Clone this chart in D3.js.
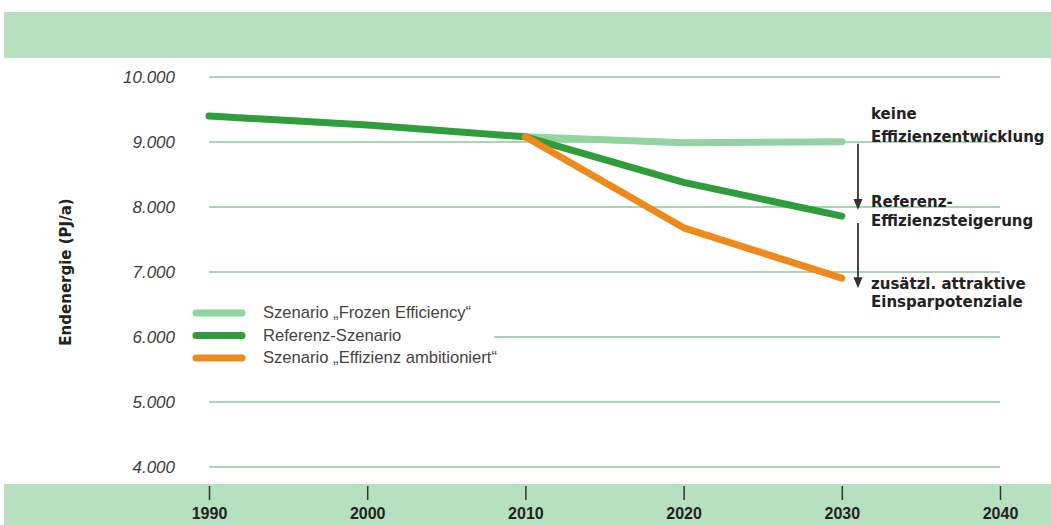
<!DOCTYPE html>
<html>
<head>
<meta charset="utf-8">
<script src="https://cdn.jsdelivr.net/npm/d3@7"></script>
<style>
  html, body { margin: 0; padding: 0; background: #fff; }
  svg { display: block; }
</style>
</head>
<body>
<svg id="chart" width="1051" height="525"></svg>
<script>
// Endenergieverbrauch je Szenario (PJ/a)
const years = [1990, 2000, 2010, 2020, 2030];
const referenz = [9400, 9260, 9080, 8380, 7860];
const frozenYears = [2010, 2020, 2030];
const frozen = [9080, 8990, 9005];
const ambitYears = [2010, 2020, 2030];
const ambitioniert = [9080, 7680, 6905];

const xTicks = [1990, 2000, 2010, 2020, 2030, 2040];
const yTicks = [4000, 5000, 6000, 7000, 8000, 9000, 10000];
const yLabel = "Endenergie (PJ/a)";

const legendItems = [
  { label: "Szenario \u201EFrozen Efficiency\u201C", color: "#93d3a0" },
  { label: "Referenz-Szenario", color: "#2f9e3a" },
  { label: "Szenario \u201EEffizienz ambitioniert\u201C", color: "#f0891c" }
];

const annotations = [
  ["keine", "Effizienzentwicklung"],
  ["Referenz-", "Effizienzsteigerung"],
  ["zus\u00E4tzl. attraktive", "Einsparpotenziale"]
];

const svg = d3.select("#chart");
const x = d3.scaleLinear().domain([1990, 2040]).range([209, 1000]);
const y = d3.scaleLinear().domain([4000, 10000]).range([467, 77]);

const bandColor = "#b7e0c0";
const gridColor = "#a9d6b2";
const boldFont = "DejaVu Sans, Liberation Sans, Arial, sans-serif";

// top band
svg.append("rect").attr("x", 4).attr("y", 12).attr("width", 1047).attr("height", 46).attr("fill", bandColor);
// bottom band
svg.append("rect").attr("x", 4).attr("y", 484).attr("width", 1047).attr("height", 41).attr("fill", bandColor);

// horizontal grid
svg.append("g").selectAll("line").data(yTicks).join("line")
  .attr("x1", x(1990)).attr("x2", x(2040))
  .attr("y1", d => y(d)).attr("y2", d => y(d))
  .attr("stroke", gridColor).attr("stroke-width", 2);

// y tick labels
const fmt = d => d3.format(",")(d).replace(/,/g, ".");
svg.append("g").selectAll("text").data(yTicks).join("text")
  .attr("x", 175).attr("y", d => y(d) + 6)
  .attr("text-anchor", "end")
  .attr("font-family", "Liberation Sans, Arial, sans-serif")
  .attr("font-style", "italic")
  .attr("font-size", 17)
  .attr("fill", "#3c3c3c")
  .text(fmt);

// y axis title
svg.append("text")
  .attr("transform", `translate(71, ${y(7000)}) rotate(-90)`)
  .attr("text-anchor", "middle")
  .attr("font-family", boldFont)
  .attr("font-weight", "bold")
  .attr("font-size", 15)
  .attr("fill", "#222")
  .text(yLabel);

// x axis ticks and labels in the bottom band
const xAxis = d3.axisBottom(x).tickValues(xTicks).tickFormat(d3.format("d")).tickSize(14).tickPadding(8);
const gx = svg.append("g").attr("transform", "translate(0,486)").call(xAxis);
gx.select(".domain").remove();
gx.selectAll(".tick line").attr("stroke", "#333").attr("stroke-width", 1.5);
gx.selectAll(".tick text")
  .attr("font-family", "Liberation Sans Narrow, Liberation Sans, Arial, sans-serif")
  .attr("font-weight", "bold")
  .attr("font-size", 16)
  .attr("fill", "#222");

// legend background hides grid behind it
svg.append("rect").attr("x", 182).attr("y", 296).attr("width", 312).attr("height", 76).attr("fill", "#fff");

// lines
const line = d3.line().x(d => x(d[0])).y(d => y(d[1]));
const series = [
  { xs: frozenYears, vs: frozen, color: legendItems[0].color },
  { xs: years, vs: referenz, color: legendItems[1].color },
  { xs: ambitYears, vs: ambitioniert, color: legendItems[2].color }
];
svg.append("g").selectAll("path").data(series).join("path")
  .attr("d", s => line(s.xs.map((t, i) => [t, s.vs[i]])))
  .attr("fill", "none")
  .attr("stroke", s => s.color)
  .attr("stroke-width", 7)
  .attr("stroke-linecap", "round")
  .attr("stroke-linejoin", "round");

// legend
const lg = svg.append("g").attr("transform", "translate(193,313)");
legendItems.forEach((it, i) => {
  const gy = i * 22.5;
  lg.append("line").attr("x1", 3).attr("x2", 49).attr("y1", gy).attr("y2", gy)
    .attr("stroke", it.color).attr("stroke-width", 7).attr("stroke-linecap", "round");
  lg.append("text").attr("x", 70).attr("y", gy + 5)
    .attr("font-family", "Liberation Sans Narrow, Liberation Sans, Arial, sans-serif")
    .attr("font-size", 16.6).attr("fill", "#444")
    .text(it.label);
});

// arrows between scenario end points: shaft plus a filled head
const ax = 858;
const arrows = [[y(9005) + 2, y(7860) - 6], [y(7860) + 7, y(6905) + 10]];
arrows.forEach(([a, b]) => {
  svg.append("line").attr("x1", ax).attr("x2", ax).attr("y1", a).attr("y2", b - 8)
    .attr("stroke", "#333").attr("stroke-width", 1.8);
  svg.append("path")
    .attr("d", `M${ax - 4.5},${b - 11} L${ax + 4.5},${b - 11} L${ax},${b} Z`)
    .attr("fill", "#333");
});

// annotation text
const annY = [[119, 142], [207, 226], [289, 307]];
annotations.forEach((lines, i) => {
  lines.forEach((l, j) => svg.append("text")
    .attr("x", 871).attr("y", annY[i][j])
    .attr("font-family", boldFont)
    .attr("font-weight", "bold").attr("font-size", 15).attr("fill", "#222")
    .text(l));
});
</script>
</body>
</html>
